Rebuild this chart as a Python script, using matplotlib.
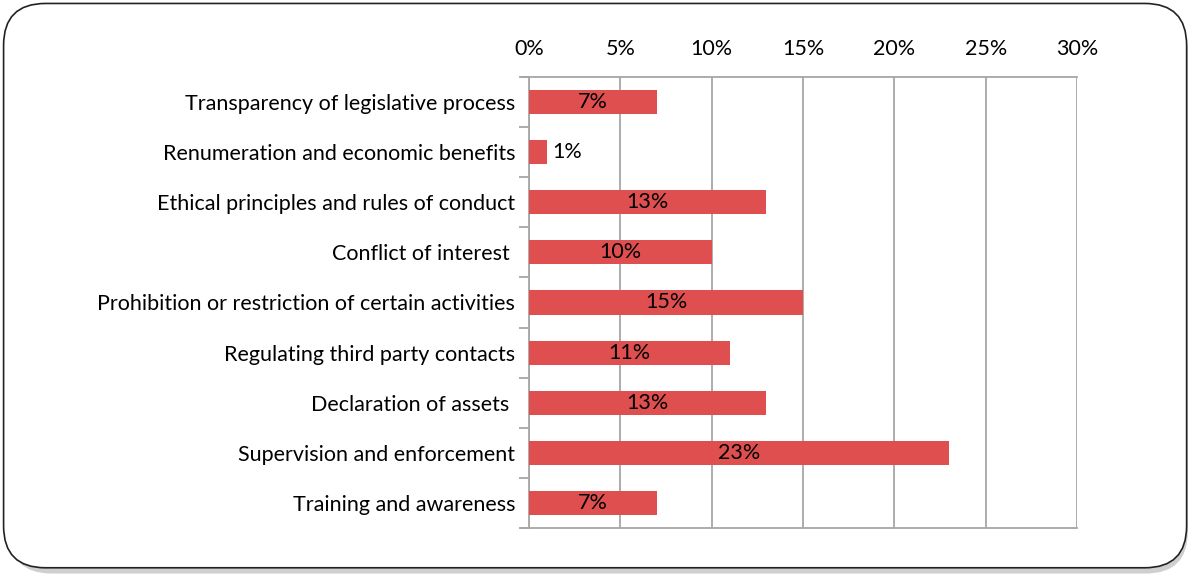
import matplotlib.pyplot as plt
from matplotlib.patches import FancyBboxPatch
from matplotlib.ticker import PercentFormatter

categories = ['Transparency of legislative process',
              'Renumeration and economic benefits',
              'Ethical principles and rules of conduct',
              'Conflict of interest ',
              'Prohibition or restriction of certain activities',
              'Regulating third party contacts',
              'Declaration of assets ',
              'Supervision and enforcement',
              'Training and awareness']
values = [7, 1, 13, 10, 15, 11, 13, 23, 7]
xticks = [0, 5, 10, 15, 20, 25, 30]

BAR = '#DF4F4F'
GRID = '#A6A6A6'
FS = 15.5
plt.rcParams['font.family'] = ['Lato', 'DejaVu Sans']

fig = plt.figure(figsize=(11.95, 5.77), dpi=100)

# rounded frame with a soft shadow
shadow = FancyBboxPatch((0.008, 0.006), 0.986, 0.978, transform=fig.transFigure,
                        boxstyle='round,pad=0,rounding_size=0.035',
                        facecolor='#b0b0b0', edgecolor='none', alpha=0.6,
                        mutation_aspect=1195 / 577, zorder=-3)
frame = FancyBboxPatch((0.003, 0.016), 0.99, 0.978, transform=fig.transFigure,
                       boxstyle='round,pad=0,rounding_size=0.035',
                       facecolor='white', edgecolor='#222222', linewidth=1.2,
                       mutation_aspect=1195 / 577, zorder=-2)
fig.patches.extend([shadow, frame])

ax = fig.add_axes([529 / 1195, 1 - 528 / 577, 548 / 1195, 451 / 577])
ax.set_facecolor('none')

y = list(range(len(categories)))
ax.barh(y, values, height=0.48, color=BAR, zorder=3)
for yi, v in zip(y, values):
    if v >= 5:
        ax.text(v / 2, yi, f'{v}%', ha='center', va='center', fontsize=FS, zorder=4)
    else:
        ax.text(v + 0.3, yi, f'{v}%', ha='left', va='center', fontsize=FS, zorder=4)

ax.set_xlim(0, 30)
ax.set_ylim(len(categories) - 0.5, -0.5)
ax.set_xticks(xticks)
ax.xaxis.set_major_formatter(PercentFormatter(decimals=0))
ax.xaxis.tick_top()
ax.tick_params(axis='x', length=0, labelsize=FS, pad=13)
ax.grid(axis='x', color=GRID, linewidth=1.3, zorder=0)

ax.set_yticks(y)
ax.set_yticklabels(categories, fontsize=FS)
ax.set_yticks([i - 0.5 for i in range(len(categories) + 1)], minor=True)
ax.tick_params(axis='y', which='major', length=0, pad=10)
ax.tick_params(axis='y', which='minor', length=7, color=GRID, width=1.3)

for s in ['right', 'top', 'bottom']:
    ax.spines[s].set_visible(False)
ax.spines['left'].set_color(GRID)
ax.spines['left'].set_linewidth(1.3)
for yy in (-0.5, len(categories) - 0.5):
    ax.plot([-0.4, 30], [yy, yy], color=GRID, linewidth=1.3, clip_on=False, zorder=1)

fig.savefig('out.png', dpi=100)
